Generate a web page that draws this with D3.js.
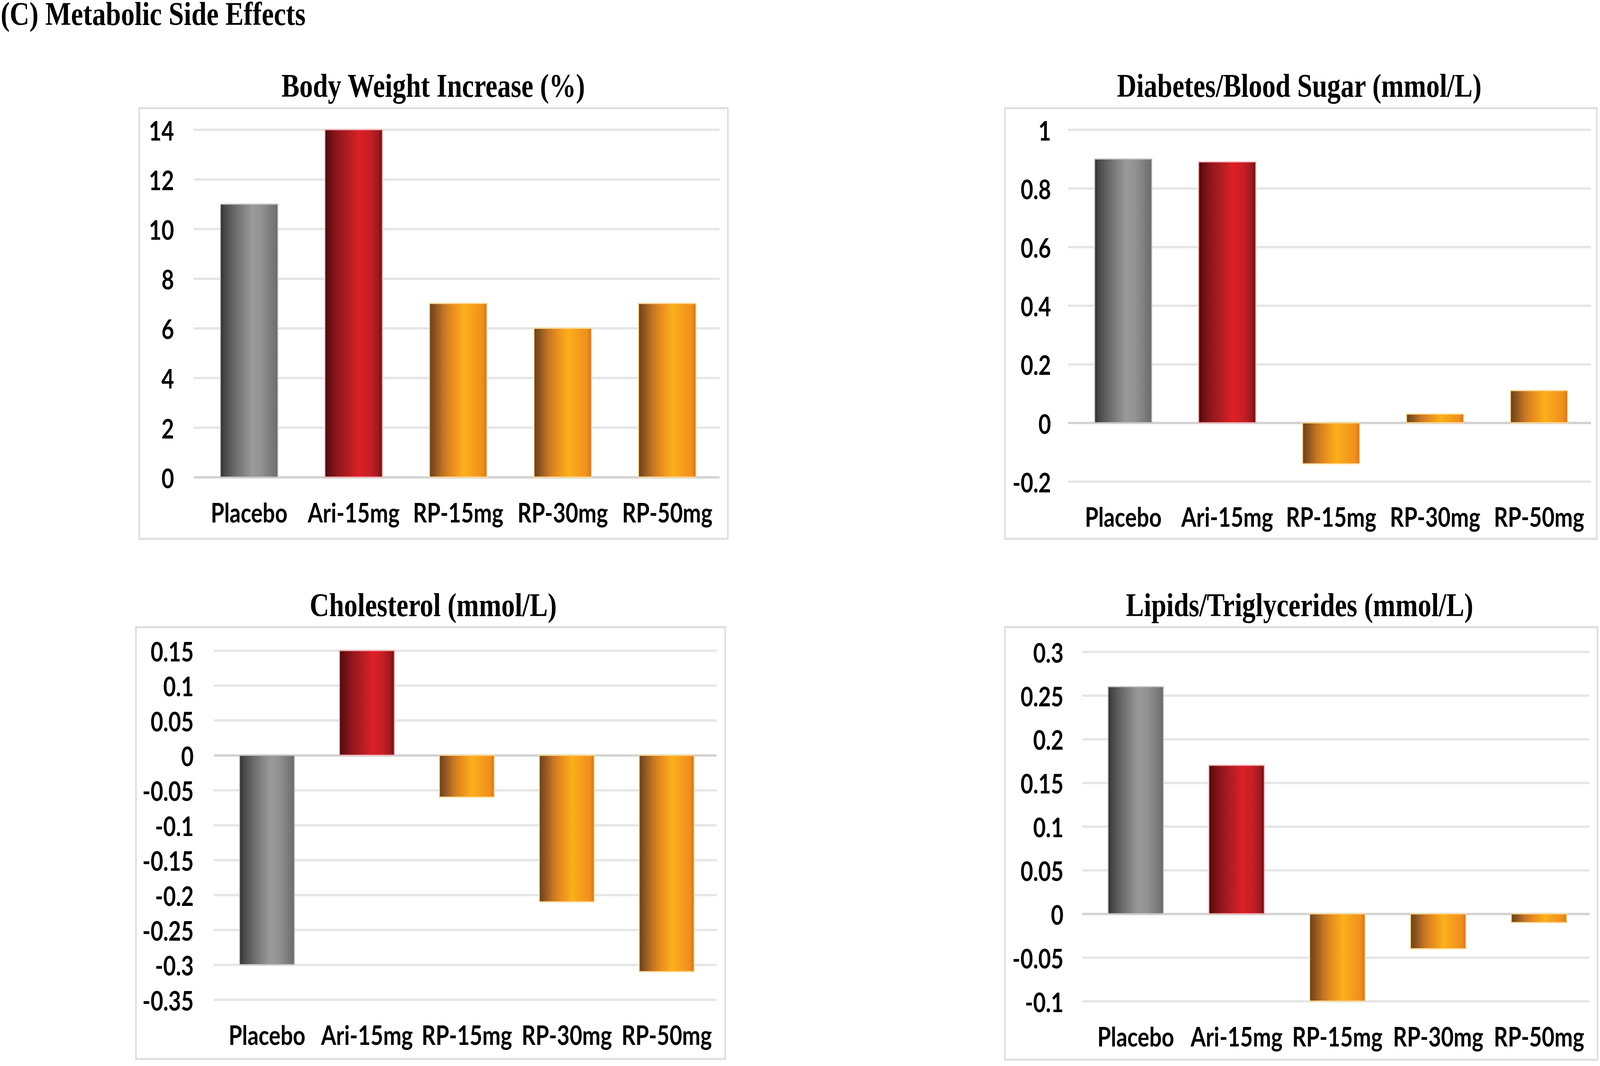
<!DOCTYPE html>
<html>
<head>
<meta charset="utf-8">
<script src="https://cdn.jsdelivr.net/npm/d3@7"></script>
<style>
  html, body { margin: 0; padding: 0; background: #fff; overflow: hidden; }
  svg { display: block; }
</style>
</head>
<body>
<div id="chart"></div>
<script>
var categories = ['Placebo', 'Ari-15mg', 'RP-15mg', 'RP-30mg', 'RP-50mg'];

var weightValues = [11, 14, 7, 6, 7];
var sugarValues = [0.9, 0.89, -0.14, 0.03, 0.11];
var cholesterolValues = [-0.30, 0.15, -0.06, -0.21, -0.31];
var lipidValues = [0.26, 0.17, -0.10, -0.04, -0.01];

var weightTicks = [0, 2, 4, 6, 8, 10, 12, 14];
var sugarTicks = [-0.2, 0, 0.2, 0.4, 0.6, 0.8, 1];
var cholesterolTicks = [-0.35, -0.3, -0.25, -0.2, -0.15, -0.1, -0.05, 0, 0.05, 0.1, 0.15];
var lipidTicks = [-0.1, -0.05, 0, 0.05, 0.1, 0.15, 0.2, 0.25, 0.3];

var titles = ['Body Weight Increase (%)', 'Diabetes/Blood Sugar (mmol/L)',
              'Cholesterol (mmol/L)', 'Lipids/Triglycerides (mmol/L)'];

// which gradient each category uses
var barKind = ['grey', 'red', 'orange', 'orange', 'orange'];

var fullWidth = 4990;
var fullHeight = 2730;

// the window comes out narrower than asked, so stretch the drawing over it
var svg = d3.select('#chart').append('svg')
  .attr('width', window.innerWidth)
  .attr('height', window.innerHeight)
  .attr('viewBox', '0 0 ' + fullWidth + ' ' + fullHeight)
  .attr('preserveAspectRatio', 'none');

svg.append('rect')
  .attr('width', fullWidth)
  .attr('height', fullHeight)
  .attr('fill', '#fff');

var defs = svg.append('defs');
var gradients = {
  grey: [[0, '#2a2a2a'], [0.06, '#454545'], [0.25, '#6a6a6a'], [0.55, '#9a9a9a'],
         [0.7, '#939393'], [0.85, '#808080'], [1, '#6a6a6a']],
  red: [[0, '#4a0a0d'], [0.08, '#6a0f13'], [0.2, '#8c161b'], [0.4, '#b11c22'],
        [0.6, '#de1f27'], [0.8, '#c41e25'], [0.92, '#a01a1f'], [1, '#6e1014']],
  orange: [[0, '#6b4216'], [0.1, '#8c5420'], [0.25, '#c57624'], [0.4, '#ea8d1d'],
           [0.6, '#fbb01b'], [0.8, '#f49a1c'], [0.92, '#ef901c'], [1, '#d07426']]
};
var edgeColour = {grey: '#c9c9c9', red: '#f4b3b6', orange: '#fcdc98'};

Object.keys(gradients).forEach(function(k) {
  var lg = defs.append('linearGradient')
    .attr('id', 'grad-' + k)
    .attr('x1', 0).attr('x2', 1).attr('y1', 0).attr('y2', 0);
  gradients[k].forEach(function(s) {
    lg.append('stop').attr('offset', s[0]).attr('stop-color', s[1]);
  });
});

var sansFont = 'Lato, "Open Sans", sans-serif';
var serifFont = '"Liberation Serif", "DejaVu Serif", serif';

svg.append('text')
  .attr('x', 2)
  .attr('y', 64)
  .style('font-family', serifFont)
  .style('font-weight', 'bold')
  .style('font-size', '85px')
  .text('(C) Metabolic Side Effects');

var panels = [
  {values: weightValues, ticks: weightTicks, title: titles[0],
   box: [434, 277, 2270, 1380], titleX: 1351, titleY: 248,
   left: 614, right: 2244, top: 332, bottom: 1222, labelX: 543},
  {values: sugarValues, ticks: sugarTicks, title: titles[1],
   box: [3134, 277, 4980, 1380], titleX: 4052, titleY: 248,
   left: 3341, right: 4962, top: 332, bottom: 1233, labelX: 3278},
  {values: cholesterolValues, ticks: cholesterolTicks, title: titles[2],
   box: [424, 1606, 2262, 2712], titleX: 1351, titleY: 1578,
   left: 677, right: 2235, top: 1666, bottom: 2560, labelX: 604},
  {values: lipidValues, ticks: lipidTicks, title: titles[3],
   box: [3134, 1606, 4982, 2714], titleX: 4053, titleY: 1578,
   left: 3385, right: 4957, top: 1669, bottom: 2564, labelX: 3317}
];

panels.forEach(function(p) {
  var g = svg.append('g');

  g.append('rect')
    .attr('x', p.box[0])
    .attr('y', p.box[1])
    .attr('width', p.box[2] - p.box[0])
    .attr('height', p.box[3] - p.box[1])
    .attr('fill', 'none')
    .attr('stroke', '#dedede')
    .attr('stroke-width', 5);

  g.append('text')
    .attr('x', p.titleX)
    .attr('y', p.titleY)
    .style('text-anchor', 'middle')
    .style('font-family', serifFont)
    .style('font-weight', 'bold')
    .style('font-size', '84px')
    .text(p.title);

  var xScale = d3.scaleBand()
    .domain(categories)
    .range([p.left, p.right])
    .paddingInner(0.45)
    .paddingOuter(0.225);

  var yScale = d3.scaleLinear()
    .domain(d3.extent(p.ticks))
    .range([p.bottom, p.top]);

  // gridlines
  var grid = g.append('g')
    .attr('transform', 'translate(' + (p.left - 10) + ',0)')
    .call(d3.axisLeft(yScale)
      .tickValues(p.ticks)
      .tickSize(-(p.right - p.left + 10))
      .tickFormat(''));
  grid.select('.domain').remove();
  grid.selectAll('line')
    .attr('stroke', function(d) { return d === 0 ? '#d2d2d2' : '#e6e6e6'; })
    .attr('stroke-width', 6);

  // tick labels
  var yAxisEle = g.append('g')
    .attr('transform', 'translate(' + p.labelX + ',0)')
    .call(d3.axisLeft(yScale)
      .tickValues(p.ticks)
      .tickSize(0)
      .tickPadding(0)
      .tickFormat(function(d) { return String(d); }));
  yAxisEle.select('.domain').remove();
  yAxisEle.selectAll('text')
    .attr('dy', '0.4em')
    .style('font-family', sansFont)
    .style('font-weight', 'bold')
    .style('font-size', '68px')
    .style('fill', '#000');

  // bars
  g.append('g').selectAll('rect.bar')
    .data(p.values)
    .enter().append('rect')
      .classed('bar', true)
      .attr('x', function(d, i) { return xScale(categories[i]); })
      .attr('width', xScale.bandwidth())
      .attr('y', function(d) { return yScale(Math.max(0, d)); })
      .attr('height', function(d) { return Math.abs(yScale(d) - yScale(0)); })
      .attr('fill', function(d, i) { return 'url(#grad-' + barKind[i] + ')'; })
      .attr('stroke', function(d, i) { return edgeColour[barKind[i]]; })
      .attr('stroke-width', 3);

  // category labels
  var xAxisEle = g.append('g')
    .attr('transform', 'translate(0,' + p.bottom + ')')
    .call(d3.axisBottom(xScale).tickSize(0));
  xAxisEle.select('.domain').remove();
  xAxisEle.selectAll('text')
    .attr('y', 116)
    .attr('dy', 0)
    .style('font-family', sansFont)
    .style('font-weight', 'bold')
    .style('font-size', '68px')
    .style('fill', '#000');
});
</script>
</body>
</html>
